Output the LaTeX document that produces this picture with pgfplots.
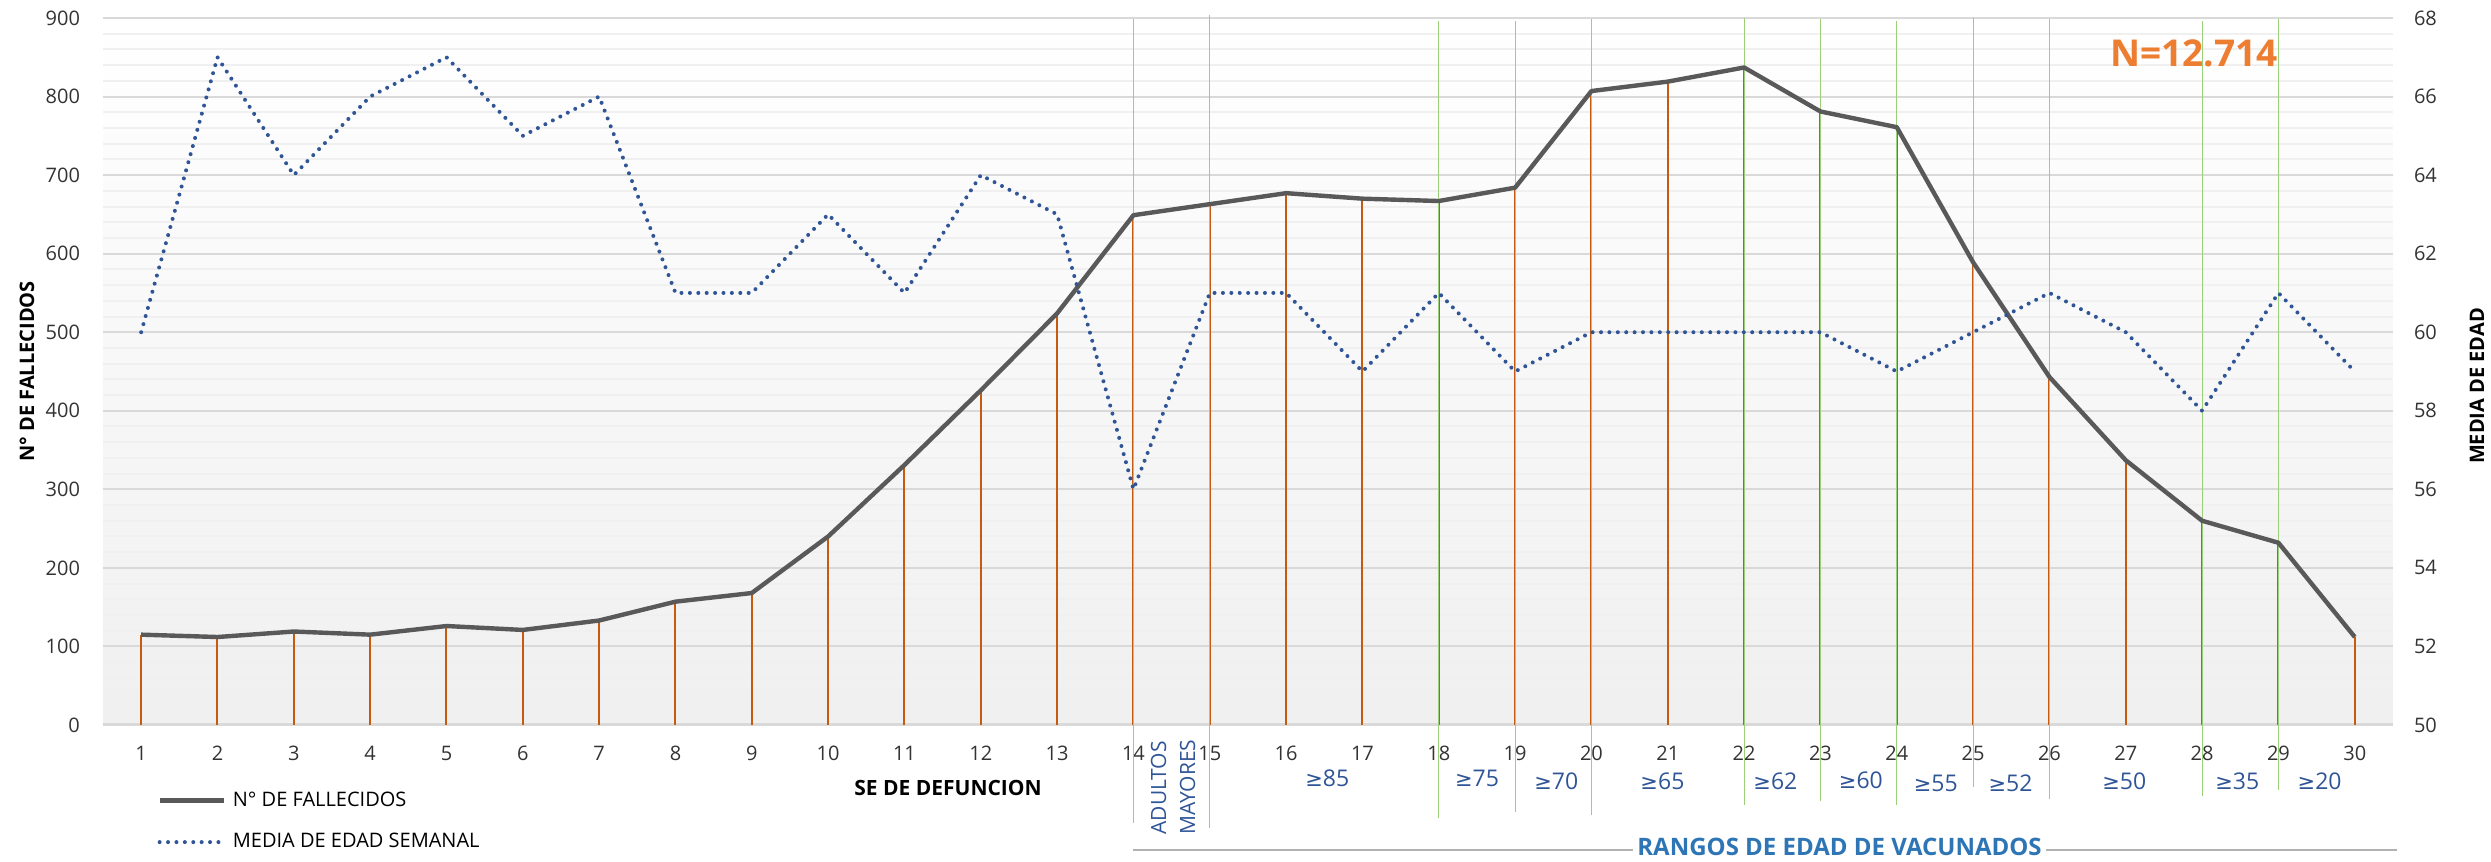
\documentclass[border=0pt]{standalone}
\usepackage{fontspec}
\setmainfont{Open Sans}
\newfontfamily\symfont{DejaVu Sans}
\usepackage{pgfplots}
\usepackage{pgfplotstable}
\pgfplotsset{compat=1.18}

\definecolor{lineGray}{HTML}{595959}
\definecolor{dotBlue}{HTML}{2F5597}
\definecolor{stemOrange}{HTML}{C55A11}
\definecolor{vGreen}{HTML}{9BCF7A}
\definecolor{labBlue}{HTML}{2F5597}
\definecolor{rangBlue}{HTML}{2E75B6}
\definecolor{nOrange}{HTML}{ED7D31}

\newcommand{\GEsym}{{\symfont\fontsize{10.5}{13}\selectfont ≥}}

\pgfplotstableread{
w f m
1 115 60
2 112 67
3 119 64
4 115 66
5 126 67
6 121 65
7 133 66
8 157 61
9 168 61
10 240 63
11 331 61
12 426 64
13 524 63
14 649 56
15 663 61
16 677 61
17 670 59
18 667 61
19 684 59
20 807 60
21 819 60
22 837 60
23 781 60
24 761 59
25 589 60
26 443 61
27 337 60
28 260 58
29 232 61
30 112 59
}\data

\begin{document}
\begin{tikzpicture}
\useasboundingbox (-51.5pt,-68.5pt) rectangle (1194pt,362.5pt);
\begin{axis}[
  scale only axis, width=1145pt, height=353.5pt,
  at={(0pt,0pt)}, anchor=south west,
  xmin=0.5, xmax=30.5, ymin=0, ymax=900,
  xtick={1,...,30}, ytick={0,100,...,900}, minor y tick num=4,
  ymajorgrids, yminorgrids,
  major grid style={draw=black!15, line width=1pt},
  minor grid style={draw=black!6, line width=1pt},
  axis x line*=bottom, axis y line*=left,
  x axis line style={draw=black!15, line width=1.5pt, -},
  y axis line style={draw=none},
  major tick length=0pt, minor tick length=0pt,
  tick style={draw=none},
  ticklabel style={font=\fontsize{10}{12}\selectfont, text=black!80},
  xticklabel style={yshift=-7pt},
  yticklabel style={xshift=-8pt},
  /pgf/number format/assume math mode=true,
  clip=false,
  axis background/.style={shade, top color=white, bottom color=black!6},
]
\addplot[ycomb, stemOrange, line width=1pt, no markers, forget plot] table[x=w,y=f]{\data};
% green separators
\addplot[vGreen, line width=0.6pt, forget plot] coordinates {(14,899) (14,-125)};
\addplot[vGreen, line width=0.6pt, forget plot] coordinates {(15,904) (15,-131)};
\addplot[vGreen, line width=0.6pt, forget plot] coordinates {(18,896) (18,-118)};
\addplot[vGreen, line width=0.6pt, forget plot] coordinates {(19,896) (19,-111)};
\addplot[vGreen, line width=0.6pt, forget plot] coordinates {(20,899) (20,-115)};
\addplot[vGreen, line width=0.6pt, forget plot] coordinates {(22,900) (22,-102)};
\addplot[vGreen, line width=0.6pt, forget plot] coordinates {(23,899) (23,-97)};
\addplot[vGreen, line width=0.6pt, forget plot] coordinates {(24,896) (24,-102)};
\addplot[vGreen, line width=0.6pt, forget plot] coordinates {(25,900) (25,-79)};
\addplot[vGreen, line width=0.6pt, forget plot] coordinates {(26,899) (26,-94)};
\addplot[vGreen, line width=0.6pt, forget plot] coordinates {(28,896) (28,-90)};
\addplot[vGreen, line width=0.6pt, forget plot] coordinates {(29,899) (29,-83)};
\addplot[lineGray, line width=2.2pt, no markers, line join=round, forget plot] table[x=w,y=f]{\data};

\node[rotate=90, font=\bfseries\fontsize{10}{12}\selectfont] at (axis description cs:-0.0332,0.5) {N° DE FALLECIDOS};
\node[font=\bfseries\fontsize{10.5}{12}\selectfont] at (axis cs:11.57,-80) {SE DE DEFUNCION};
\node[font=\bfseries\fontsize{18.5}{20}\selectfont, text=nOrange] at (axis cs:27.89,855) {N=12.714};
\node[rotate=90, anchor=west, align=left, inner sep=0pt, font=\fontsize{10.5}{14.5}\selectfont, text=labBlue] at (axis cs:14.52,-140) {ADULTOS\\MAYORES};
\begin{scope}[every node/.style={font=\fontsize{11.5}{13}\selectfont, text=labBlue}]
\node at (axis cs:16.54,-68) {\GEsym85};
\node at (axis cs:18.50,-68) {\GEsym75};
\node at (axis cs:19.54,-72) {\GEsym70};
\node at (axis cs:20.93,-72) {\GEsym65};
\node at (axis cs:22.41,-72) {\GEsym62};
\node at (axis cs:23.53,-71) {\GEsym60};
\node at (axis cs:24.51,-74) {\GEsym55};
\node at (axis cs:25.49,-74) {\GEsym52};
\node at (axis cs:26.98,-72) {\GEsym50};
\node at (axis cs:28.46,-72) {\GEsym35};
\node at (axis cs:29.54,-72) {\GEsym20};
\end{scope}
\draw[black!30, line width=1pt] (axis cs:14,-159) -- (axis cs:30.55,-159);
\node[fill=white, inner xsep=2pt, inner ysep=1pt, font=\bfseries\fontsize{12}{14}\selectfont, text=rangBlue] at (axis cs:23.25,-155) {RANGOS DE EDAD DE VACUNADOS};
\end{axis}

\begin{axis}[
  scale only axis, width=1145pt, height=353.5pt,
  at={(0pt,0pt)}, anchor=south west,
  xmin=0.5, xmax=30.5, ymin=50, ymax=68,
  ytick={50,52,...,68}, xtick=\empty,
  axis y line*=right, axis x line=none,
  y axis line style={draw=none},
  major tick length=0pt, tick style={draw=none},
  ticklabel style={font=\fontsize{10}{12}\selectfont, text=black!80},
  yticklabel style={xshift=7pt},
  /pgf/number format/assume math mode=true,
  clip=false,
  legend style={at={(axis description cs:0.0236,-0.094)}, anchor=north west, draw=none, fill=none,
    inner sep=0pt, font=\fontsize{10}{12}\selectfont, row sep=12pt, column sep=3.5pt,
    nodes={inner sep=0pt}},
  legend cell align=left,
  legend image code/.code={\draw[#1] (0pt,0pt) -- (32pt,0pt);},
]
\addlegendimage{lineGray, line width=2.2pt}
\addlegendentry{N° DE FALLECIDOS}
\addplot[dotBlue, line width=2pt, dash pattern=on 0pt off 4.2pt, line cap=round, no markers] table[x=w,y=m]{\data};
\addlegendentry{MEDIA DE EDAD SEMANAL}
\node[rotate=90, font=\bfseries\fontsize{10}{12}\selectfont] at (axis description cs:1.0367,0.4795) {MEDIA DE EDAD};
\end{axis}
\end{tikzpicture}
\end{document}
